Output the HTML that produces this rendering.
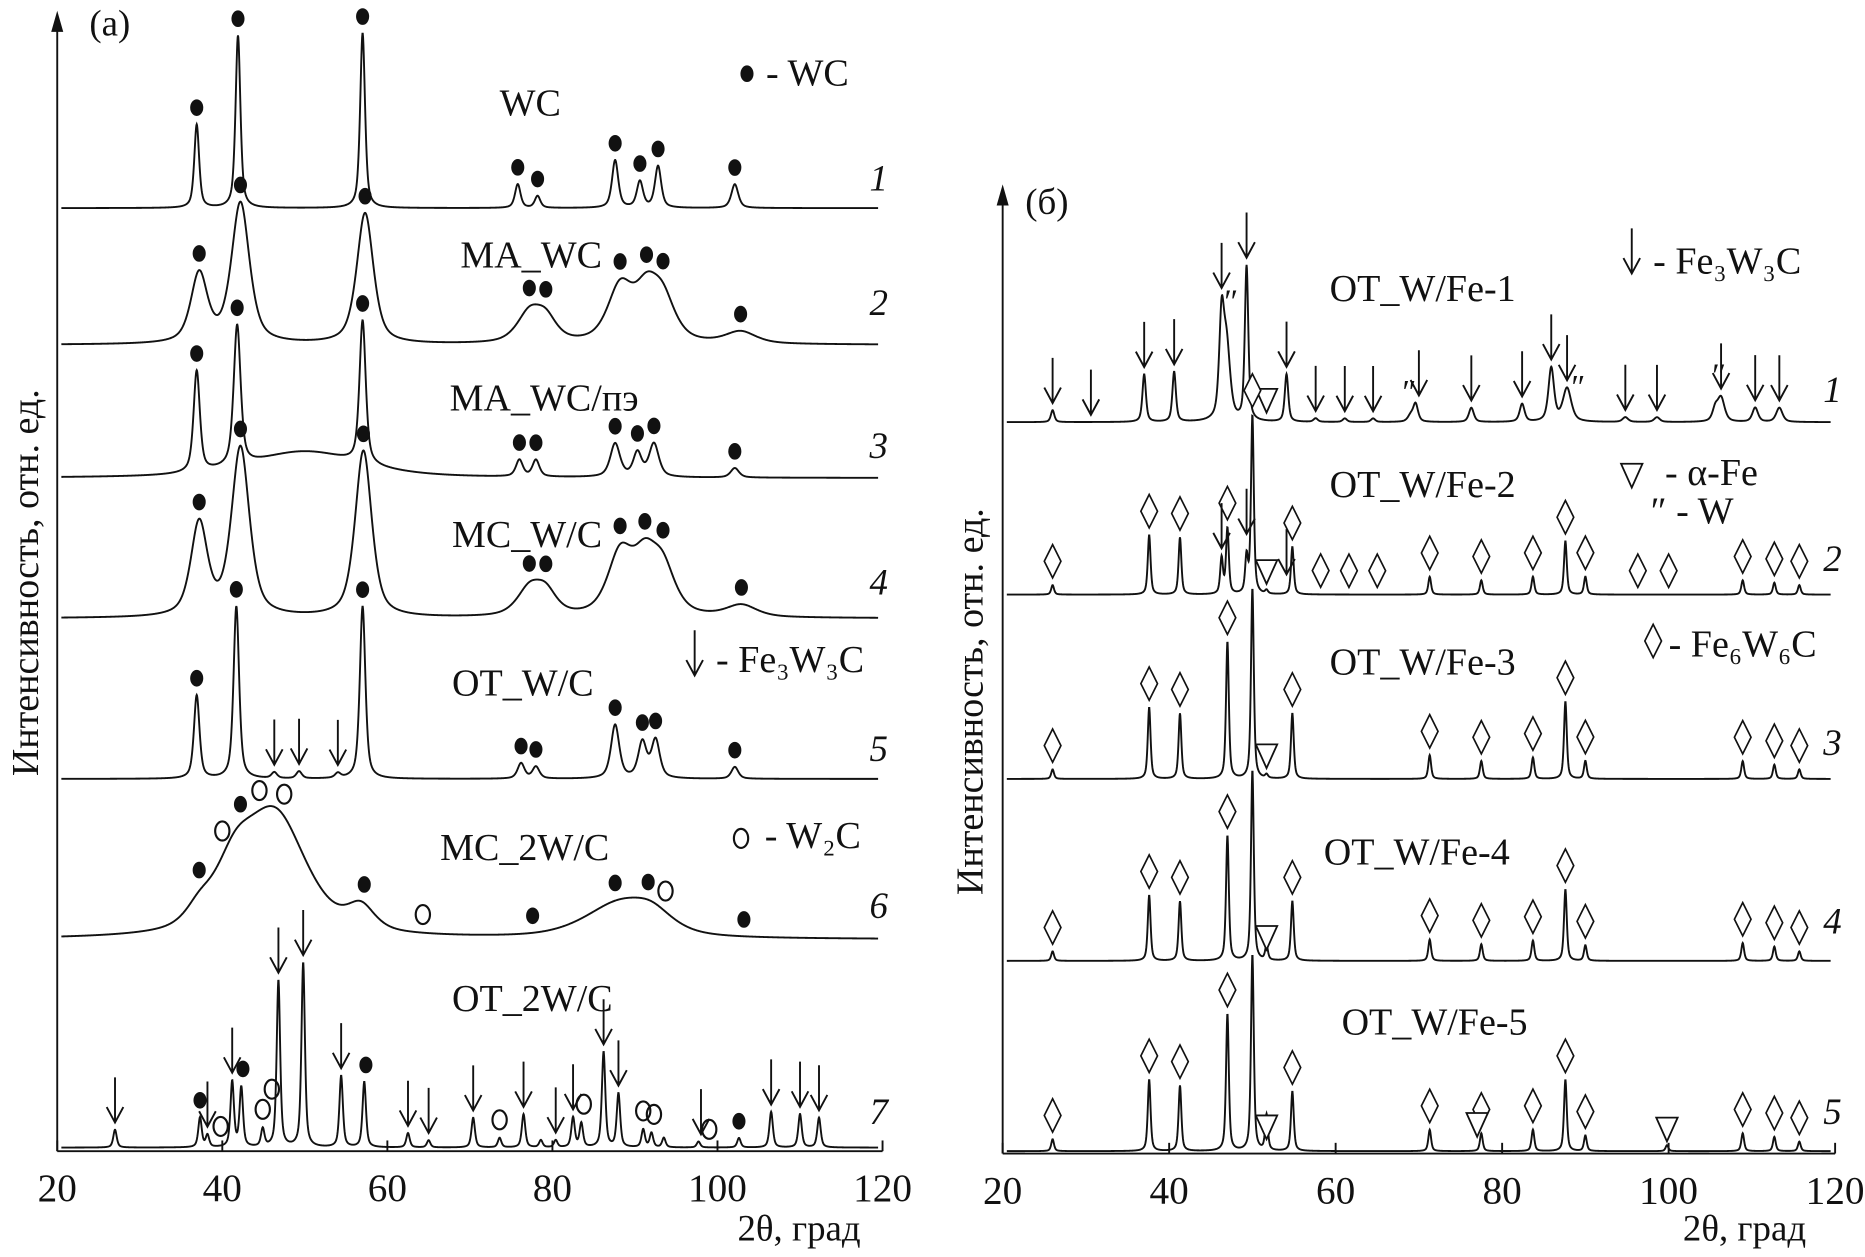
<!DOCTYPE html>
<html><head><meta charset="utf-8"><style>
html,body{margin:0;padding:0;background:#fff}
svg{display:block}
text{font-family:"Liberation Serif",serif;fill:#111}
</style></head><body>
<svg id="fig" width="1865" height="1257" viewBox="0 0 1568 1057" xmlns="http://www.w3.org/2000/svg">
<g id="axes" stroke="#111" stroke-width="1.6" fill="none"></g>
<g id="curves" fill="none" stroke="#111" stroke-width="1.6"></g>
<g id="marks"></g>
<g id="texts"></g>
</svg>
<script>
// ===== DATA =====
const L1_pos=[36.9,41.9,57.0,75.8,78.2,87.6,90.6,92.8,102.1];
const L1_h=[70,145,147,20,10,40,22,35,20];
const L1_w=[0.35,0.35,0.35,0.4,0.4,0.45,0.45,0.45,0.5];
const L2_pos=[37.2,42.2,57.3,77.2,79.2,88.2,91.4,93.4,102.8];
const L2_h=[58,118,110,24,18,45,38,32,10];
const L2_w=[1.2,1.3,1.2,1.8,1.6,1.8,1.8,1.8,2.2];
const L3_pos=[36.9,41.8,57.0,76.0,78.0,87.6,90.3,92.3,102.1,50.0];
const L3_h=[85,118,120,14,14,28,20,28,8,22];
const L3_w=[0.45,0.5,0.45,0.5,0.5,0.7,0.6,0.7,0.6,8];
const L4_pos=[37.2,42.2,57.1,77.2,79.2,88.2,91.2,93.4,102.9];
const L4_h=[78,142,140,22,18,50,42,36,10];
const L4_w=[1.2,1.3,1.2,1.8,1.6,1.8,1.8,1.8,2.2];
const L5_pos=[36.9,41.7,57.0,46.3,49.3,54.0,76.2,78.0,87.6,90.9,92.5,102.1];
const L5_h=[70,145,145,5,6,4,13,10,45,30,32,10];
const L5_w=[0.4,0.4,0.4,0.4,0.4,0.4,0.5,0.5,0.6,0.6,0.6,0.5];
const L6_pos=[37.2,41.5,46.5,56.8,88.0,92.0];
const L6_h=[14,45,100,20,28,14];
const L6_w=[2,3,4.5,2,5,3];
const L7_pos=[27,37.3,38.2,41.2,42.3,44.9,46.8,49.8,54.4,57.2,62.5,65,70.4,73.6,76.5,78.6,80.4,82.5,83.5,86.2,88,91,92,93.5,97.7,102.6,106.5,110,112.3];
const L7_h=[15,25,10,55,50,15,140,155,60,55,12,6,25,8,28,6,6,25,20,80,45,15,12,8,5,8,30,28,25];
const R1_pos=[26,37,40.6,46.3,46.9,49.3,54.1,57.6,61.1,64.5,69,69.6,76.3,82.4,85.9,87.8,94.8,98.6,105.6,106.3,110.4,113.3];
const R1_h=[10,40,42,80,62,130,40,3,3,3,5,15,12,15,45,28,4,4,10,20,12,12];
const R1_w=[0.25,0.25,0.25,0.35,0.5,0.25,0.25,0.3,0.3,0.3,0.4,0.35,0.35,0.35,0.4,0.6,0.4,0.4,0.4,0.5,0.4,0.45];
const R_pos=[26,37.6,41.3,46.3,47,49.3,50,51.7,54.8,71.3,77.5,83.7,87.6,90,99.8,108.9,112.7,115.7];
const R2_h=[8,50,48,30,55,30,150,3,40,15,12,15,45,15,0,12,10,8];
const R3_h=[8,60,55,0,115,0,160,3,55,20,15,18,65,15,0,15,12,8];
const R4_h=[8,55,50,0,105,0,160,12,50,18,14,17,60,13,0,15,12,8];
const R5_h=[10,60,55,0,115,0,165,30,50,18,15,18,60,13,5,15,12,8];
const xTicks=[20,40,60,80,100,120];

const LX=th=>48+(th-20)*6.94, RX=th=>843+(th-20)*7.0;
const NS='http://www.w3.org/2000/svg';
function mk(tag,attrs,parent){const e=document.createElementNS(NS,tag);for(const k in attrs)e.setAttribute(k,attrs[k]);if(parent)document.getElementById(parent).appendChild(e);return e;}
function val(pos,h,w,th){let s=0;for(let i=0;i<pos.length;i++){const ww=Array.isArray(w)?w[i]:w;const d=(th-pos[i])/ww;s+=h[i]*(0.6/(1+d*d)+0.4*Math.exp(-0.693*d*d));}return s;}

const curves=[
 {X:LX,base:175,pos:L1_pos,h:L1_h,w:L1_w,name:'curve-wc-1'},
 {X:LX,base:290,pos:L2_pos,h:L2_h,w:L2_w,name:'curve-ma-wc-2'},
 {X:LX,base:402,pos:L3_pos,h:L3_h,w:L3_w,name:'curve-ma-wc-pe-3'},
 {X:LX,base:520,pos:L4_pos,h:L4_h,w:L4_w,name:'curve-mc-wc-4'},
 {X:LX,base:655,pos:L5_pos,h:L5_h,w:L5_w,name:'curve-ot-wc-5'},
 {X:LX,base:790,pos:L6_pos,h:L6_h,w:L6_w,name:'curve-mc-2wc-6'},
 {X:LX,base:965,pos:L7_pos,h:L7_h,w:0.25,name:'curve-ot-2wc-7'},
 {X:RX,base:355,pos:R1_pos,h:R1_h,w:R1_w,name:'curve-ot-wfe-1'},
 {X:RX,base:500,pos:R_pos,h:R2_h,w:0.2,name:'curve-ot-wfe-2'},
 {X:RX,base:655,pos:R_pos,h:R3_h,w:0.2,name:'curve-ot-wfe-3'},
 {X:RX,base:808,pos:R_pos,h:R4_h,w:0.2,name:'curve-ot-wfe-4'},
 {X:RX,base:968,pos:R_pos,h:R5_h,w:0.2,name:'curve-ot-wfe-5'}
];
curves.forEach(c=>{
  let d='';
  for(let th=20.5;th<=119.5;th+=0.04){
    const y=c.base-val(c.pos,c.h,c.w,th);
    d+=(d?'L':'M')+c.X(th).toFixed(2)+' '+y.toFixed(2);
  }
  const p=mk('path',{d:d},'curves');
  
  
});

function axis(X,x0,yTop,yBot,xEnd,prefix){
  const a=mk('path',{d:`M${x0} ${yBot} V${yTop+12}`},'axes');
  
  
  const ah=mk('path',{d:`M${x0-4} ${yTop+14} L${x0} ${yTop} L${x0+4} ${yTop+14} Z`,fill:'#111'},'axes');
  
  
  const xa=mk('path',{d:`M${x0} ${yBot} H${xEnd}`},'axes');
  
  
  xTicks.forEach(t=>{
    const tk=mk('path',{d:`M${X(t)} ${yBot} V${yBot-9}`},'axes');
    
    
    const tl=mk('text',{x:X(t),y:yBot+42,'font-size':33,'text-anchor':'middle'},'texts');
    tl.textContent=t;
    
    
  });
}
axis(LX,48,12,968,742,'left');
axis(RX,843,158,970,1543,'right');

function yAt(ci,th){const c=curves[ci];let m=0;for(let t=th-0.4;t<=th+0.4;t+=0.05)m=Math.max(m,val(c.pos,c.h,c.w,t));return c.base-m;}
function arrow(x,y){const g=mk('path',{d:`M${x} ${y} V${y-38} M${x-7} ${y-13} L${x} ${y} L${x+7} ${y-13}`,stroke:'#111','stroke-width':1.6,fill:'none'},'marks');
}
function dot(x,y){const g=mk('ellipse',{cx:x,cy:y-8,rx:5.5,ry:7,fill:'#111'},'marks');
}
function ring(x,y){const g=mk('ellipse',{cx:x,cy:y-9,rx:6,ry:8,fill:'none',stroke:'#111','stroke-width':1.8},'marks');
}
function dia(x,y){const g=mk('path',{d:`M${x} ${y} L${x+7} ${y-14} L${x} ${y-28} L${x-7} ${y-14} Z`,fill:'#fff',stroke:'#111','stroke-width':1.4},'marks');
}
function tri(x,y){const g=mk('path',{d:`M${x} ${y} L${x+9} ${y-20} L${x-9} ${y-20} Z`,fill:'#fff',stroke:'#111','stroke-width':1.5},'marks');
}
function dq(x,y){const g=mk('text',{x:x,y:y-2,'font-size':28,'font-style':'italic','text-anchor':'middle'},'marks');g.textContent='″';
}
const F={a:arrow,d:dot,o:ring,v:dia,t:tri,q:dq};
const markers=[
 ...L1_pos.map(p=>[0,p,'d']),
 ...L2_pos.map(p=>[1,p,'d']),
 ...L3_pos.slice(0,9).map(p=>[2,p,'d']),
 ...L4_pos.map(p=>[3,p,'d']),
 ...[36.9,41.7,57.0,76.2,78.0,87.6,90.9,92.5,102.1].map(p=>[4,p,'d']),
 [4,46.3,'a'],[4,49.3,'a'],[4,54.0,'a'],
 ...[37.2,42.2,57.2,77.6,87.6,91.6,103.2].map(p=>[5,p,'d']),
 [5,40,'o'],[5,44.5,'o'],[5,47.5,'o'],[5,64.3,'o'],[5,93.7,'o'],
 ...[27,38.2,41.2,46.8,49.8,54.4,62.5,65,70.4,76.5,80.4,82.5,86.2,88,98,106.5,110,112.3].map(p=>[6,p,'a']),
 [6,37.3,'d'],[6,42.5,'d'],[6,57.4,'d'],[6,102.6,'d'],
 [6,39.8,'o'],[6,44.9,'o'],[6,46.0,'o'],[6,73.6,'o'],[6,83.8,'o'],[6,91,'o'],[6,92.3,'o'],[6,99,'o'],
 ...[26,30.6,37,40.6,46.3,49.3,54.1,57.6,61.1,64.5,70,76.3,82.4,85.9,87.8,94.8,98.6,106.3,110.4,113.3].map(p=>[7,p,'a']),
 [7,47.2,'q'],[7,68.6,'q'],[7,88.9,'q'],[7,105.8,'q'],[7,51.7,'t'],
 ...[26,37.6,41.3,47,50,54.8,58.2,61.6,65,71.3,77.5,83.7,87.6,90,96.3,100,108.9,112.7,115.7].map(p=>[8,p,'v']),
 [8,46.3,'a'],[8,49.3,'a'],[8,54.1,'a'],[8,51.7,'t'],
 ...[26,37.6,41.3,47,54.8,71.3,77.5,83.7,87.6,90,108.9,112.7,115.7].map(p=>[9,p,'v']),[9,51.7,'t'],
 ...[26,37.6,41.3,47,54.8,71.3,77.5,83.7,87.6,90,108.9,112.7,115.7].map(p=>[10,p,'v']),[10,51.7,'t'],
 ...[26,37.6,41.3,47,54.8,71.3,77.5,83.7,87.6,90,108.9,112.7,115.7].map(p=>[11,p,'v']),[11,51.7,'t'],[11,77,'t'],[11,99.8,'t']
];
markers.forEach(m=>{const c=curves[m[0]];let y=yAt(m[0],m[1])-6;if(m[2]==='t'&&m[0]>=8)y=c.base-val(c.pos,c.h,c.w,m[1]+0.8)-8;if(m[2]==='t'&&m[0]===7)y=c.base-8;F[m[2]](c.X(m[1]),y);});

const T=[
 ['(a)',75,30,31,'panel-a-label'],['(б)',862,180,31,'panel-b-label'],
 ['WC',420,97,32,'label-wc'],['MA_WC',387,225,32,'label-ma-wc'],['MA_WC/пэ',378,345,32,'label-ma-wc-pe'],
 ['MC_W/C',380,460,32,'label-mc-wc'],['OT_W/C',380,585,32,'label-ot-wc'],['MC_2W/C',370,723,32,'label-mc-2wc'],['OT_2W/C',380,850,32,'label-ot-2wc'],
 ['- WC',644,72,32,'legend-wc'],['- Fe₃W₃C',602,565,32,'legend-fe3w3c-a'],['- W₂C',643,713,32,'legend-w2c'],
 ['OT_W/Fe-1',1118,253,32,'label-ot-wfe-1'],['OT_W/Fe-2',1118,418,32,'label-ot-wfe-2'],['OT_W/Fe-3',1118,567,32,'label-ot-wfe-3'],
 ['OT_W/Fe-4',1113,727,32,'label-ot-wfe-4'],['OT_W/Fe-5',1128,870,32,'label-ot-wfe-5'],
 ['- Fe₃W₃C',1390,230,32,'legend-fe3w3c-b'],['- α-Fe',1400,408,32,'legend-alpha-fe'],['″ - W',1388,440,32,'legend-w'],['- Fe₆W₆C',1403,552,32,'legend-fe6w6c'],
 ['2θ, град',620,1043,31,'left-x-axis-title'],['2θ, град',1415,1043,31,'right-x-axis-title']
];
T.forEach(t=>{const e=mk('text',{x:t[1],y:t[2],'font-size':t[3]},'texts');e.textContent=t[0];

});
['1','2','3','4','5','6','7'].forEach((n,i)=>{const ys=[160,265,385,500,640,772,945];const e=mk('text',{x:731,y:ys[i],'font-size':31,'font-style':'italic'},'texts');e.textContent=n;

});
['1','2','3','4','5'].forEach((n,i)=>{const ys=[338,480,635,785,945];const e=mk('text',{x:1533,y:ys[i],'font-size':31,'font-style':'italic'},'texts');e.textContent=n;

});
dot(628,70);arrow(584,568);ring(623,714);arrow(1372,230);tri(1372,410);dia(1390,553);
[[32,490,'left-y-axis-title'],[826,590,'right-y-axis-title']].forEach(p=>{const e=mk('text',{x:p[0],y:p[1],'font-size':32,'text-anchor':'middle',transform:`rotate(-90 ${p[0]} ${p[1]})`},'texts');e.textContent='Интенсивность, отн. ед.';

});
</script>
</body></html>
